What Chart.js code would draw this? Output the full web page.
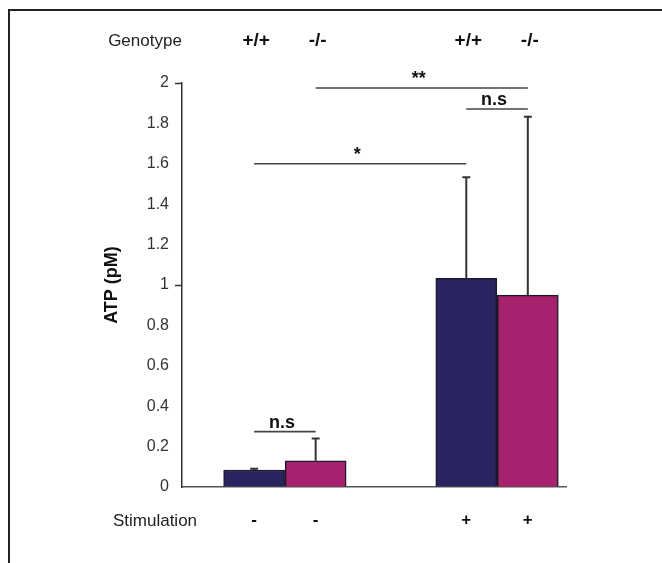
<!DOCTYPE html>
<html>
<head>
<meta charset="utf-8">
<script src="https://cdn.jsdelivr.net/npm/chart.js@4"></script>
<style>
  html, body { margin: 0; padding: 0; background: #fff; }
  #wrap { position: relative; width: 662px; height: 563px; }
  #frame {
    position: absolute; left: 8px; top: 9px; right: 0; bottom: 0;
    border-top: 2px solid #222; border-left: 2px solid #222;
  }
  canvas { position: absolute; left: 0; top: 0; }
</style>
</head>
<body>
<div id="wrap">
  <div id="frame"></div>
  <canvas id="chart" width="662" height="563"></canvas>
</div>
<script>
// ATP release by genotype, with and without stimulation.
// x positions: stimulation group (1 = unstimulated, 2 = stimulated) +/- half a bar.
const stimGroups = [1, 2];
const stimLabels = ["-", "+"];
const genotypes = ["+/+", "-/-"];
const barShift = [-0.145, 0.145];

const atpWT = [0.084, 1.033];   // +/+
const atpKO = [0.13, 0.95];     // -/-
const sdWT = [0.006, 0.5];
const sdKO = [0.11, 0.883];

const yTicks = [0, 0.2, 0.4, 0.6, 0.8, 1, 1.2, 1.4, 1.6, 1.8, 2];

// significance bars: [from bar, to bar, height (pM), label]; bars numbered 0..3 left to right
const sigFrom = [0, 1, 2, 0];
const sigTo = [2, 3, 3, 1];
const sigAt = [1.6, 1.975, 1.871, 0.274];
const sigText = ["*", "**", "n.s", "n.s"];

const NAVY = "#29235f";
const MAGENTA = "#a6226e";
const FONT = "'Liberation Sans', Arial, Helvetica, sans-serif";

Chart.defaults.font.family = FONT;

const series = [atpWT, atpKO];
const sds = [sdWT, sdKO];
const points = (gi) => stimGroups.map((g, i) => ({ x: g + barShift[gi], y: series[gi][i] }));

// bar elements in left-to-right order
function barsInOrder(chart) {
  const out = [];
  stimGroups.forEach((_, i) => {
    genotypes.forEach((_, gi) => out.push({ el: chart.getDatasetMeta(gi).data[i], gi, i }));
  });
  return out;
}

const annotations = {
  id: "annotations",
  afterDatasetsDraw(chart) {
    const { ctx, scales: { y }, chartArea } = chart;
    const bars = barsInOrder(chart);
    ctx.save();

    // one-sided error bars
    ctx.strokeStyle = "#333";
    ctx.lineWidth = 2;
    bars.forEach(({ el, gi, i }) => {
      const top = y.getPixelForValue(series[gi][i] + sds[gi][i]);
      ctx.beginPath();
      ctx.moveTo(el.x, el.y);
      ctx.lineTo(el.x, top);
      ctx.moveTo(el.x - 4, top);
      ctx.lineTo(el.x + 4, top);
      ctx.stroke();
    });

    // significance lines
    ctx.strokeStyle = "#444";
    ctx.lineWidth = 1.6;
    ctx.fillStyle = "#111";
    ctx.font = "bold 18px " + FONT;
    ctx.textAlign = "center";
    ctx.textBaseline = "alphabetic";
    sigText.forEach((label, k) => {
      const x1 = bars[sigFrom[k]].el.x;
      const x2 = bars[sigTo[k]].el.x;
      const py = y.getPixelForValue(sigAt[k]);
      ctx.beginPath();
      ctx.moveTo(x1, py);
      ctx.lineTo(x2, py);
      ctx.stroke();
      ctx.fillText(label, (x1 + x2) / 2 - 3, py - 4);
    });

    // genotype header over each bar
    ctx.textBaseline = "middle";
    ctx.font = "bold 19px " + FONT;
    bars.forEach(({ el, gi }) => ctx.fillText(genotypes[gi], el.x + 2, 41));

    ctx.font = "17px " + FONT;
    ctx.fillStyle = "#222";
    ctx.fillText("Genotype", chartArea.left - 37, 41);
    ctx.fillText("Stimulation", chartArea.left - 27, 521);
    ctx.restore();
  },
};

new Chart(document.getElementById("chart"), {
  type: "bar",
  data: {
    datasets: genotypes.map((g, gi) => ({
      label: g,
      data: points(gi),
      backgroundColor: gi === 0 ? NAVY : MAGENTA,
      borderColor: "#1c1a2a",
      borderWidth: 1.5,
      barThickness: 61,
      grouped: false,
    })),
  },
  options: {
    responsive: false,
    animation: false,
    layout: { padding: { top: 83, right: 96, bottom: 0, left: 0 } },
    plugins: { legend: { display: false }, tooltip: { enabled: false } },
    scales: {
      x: {
        type: "linear",
        offset: false,
        min: 0.515,
        max: 2.325,
        afterFit: (s) => { s.height = 76; },
        afterBuildTicks: (s) => {
          s.ticks = [];
          stimGroups.forEach((g) => barShift.forEach((d) => s.ticks.push({ value: g + d })));
        },
        ticks: {
          autoSkip: false,
          maxRotation: 0,
          padding: 23,
          color: "#111",
          font: { size: 17, weight: "bold" },
          callback: (v, i) => stimLabels[Math.floor(i / 2)],
        },
        grid: { display: false, drawTicks: false, offset: false },
        border: { display: true, color: "#555", width: 1.5 },
      },
      y: {
        min: 0,
        max: 2,
        afterFit: (s) => { s.width = 182; },
        afterBuildTicks: (s) => { s.ticks = yTicks.map((v) => ({ value: v })); },
        ticks: { color: "#333", padding: 6, font: { size: 16 }, callback: (v) => String(+v.toFixed(1)) },
        grid: {
          drawOnChartArea: false,
          tickLength: 7,
          tickWidth: 1.5,
          tickColor: (c) => (c.tick && (c.tick.value === 1 || c.tick.value === 2) ? "#333" : "rgba(0,0,0,0)"),
        },
        border: { color: "#333", width: 1.5 },
        title: {
          display: true,
          text: "ATP (pM)",
          color: "#111",
          font: { size: 18, weight: "bold" },
          padding: { top: 101, bottom: 0 },
        },
      },
    },
  },
  plugins: [annotations],
});
</script>
</body>
</html>
